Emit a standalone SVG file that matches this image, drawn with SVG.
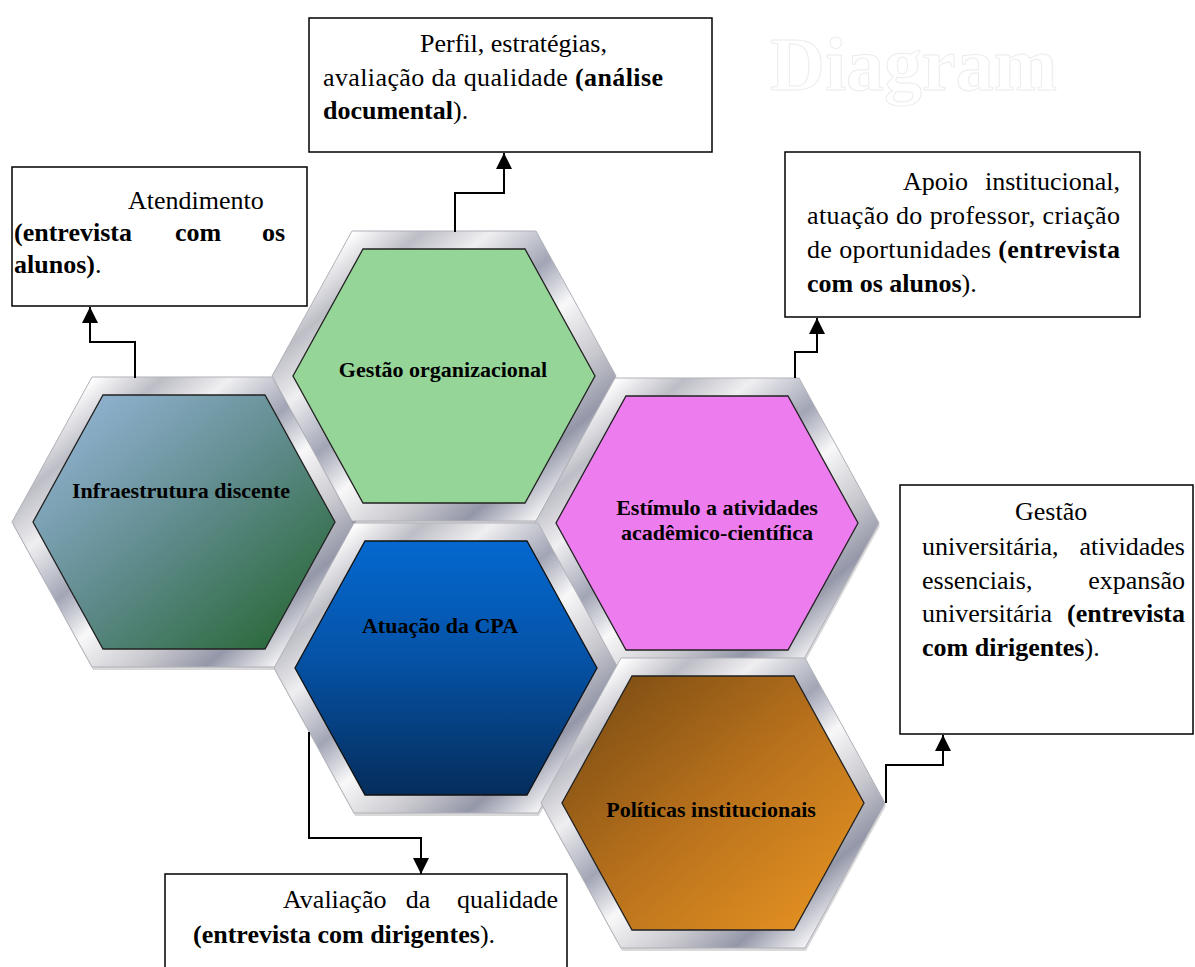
<svg xmlns="http://www.w3.org/2000/svg" xmlns:xlink="http://www.w3.org/1999/xlink" width="1195" height="967" viewBox="0 0 1195 967">
  <style>
    .box { fill: #ffffff; stroke: #000000; stroke-width: 1.5; }
    .bt { font-family: "Liberation Serif", "Times New Roman", serif; font-size: 26px; fill: #000000; }
    .b { font-weight: bold; }
    .ht { font-family: "Liberation Serif", "Times New Roman", serif; font-size: 22px; font-weight: bold; fill: #000000; text-anchor: middle; }
    .conn { fill: none; stroke: #000000; stroke-width: 2; marker-end: url(#arrow); }
    .mark { font-family: "Liberation Serif", "Times New Roman", serif; font-size: 76px; font-weight: bold; fill: #ffffff; stroke: #ececec; stroke-width: 1; }
  </style>
  <defs>
    <!-- metallic bevel for the hexagon frames -->
    <linearGradient id="silver" x1="0" y1="0" x2="1" y2="1">
      <stop offset="0" stop-color="#d8d8dc"/>
      <stop offset="0.12" stop-color="#ffffff"/>
      <stop offset="0.22" stop-color="#bdbdc6"/>
      <stop offset="0.32" stop-color="#efeff1"/>
      <stop offset="0.45" stop-color="#a2a5b5"/>
      <stop offset="0.55" stop-color="#f8f8f9"/>
      <stop offset="0.68" stop-color="#c8c8ce"/>
      <stop offset="0.78" stop-color="#9497a8"/>
      <stop offset="0.88" stop-color="#f3f3f5"/>
      <stop offset="1" stop-color="#cacad0"/>
    </linearGradient>
    <linearGradient id="gInfra" x1="0" y1="0" x2="1" y2="1">
      <stop offset="0" stop-color="#9cbbe0"/>
      <stop offset="0.5" stop-color="#5f8b8c"/>
      <stop offset="1" stop-color="#1f6128"/>
    </linearGradient>
    <linearGradient id="gCpa" x1="0" y1="0" x2="0" y2="1">
      <stop offset="0" stop-color="#0468cf"/>
      <stop offset="0.45" stop-color="#0553a8"/>
      <stop offset="1" stop-color="#052d5b"/>
    </linearGradient>
    <linearGradient id="gPol" x1="0" y1="0" x2="1" y2="1">
      <stop offset="0" stop-color="#734812"/>
      <stop offset="0.5" stop-color="#b8711c"/>
      <stop offset="1" stop-color="#ec9722"/>
    </linearGradient>
    <polygon id="frame" points="-92,-145 92,-145 172,0 92,145 -92,145 -172,0"/>
    <polygon id="face" points="-81,-127 81,-127 151,0 81,127 -81,127 -151,0"/>
    <marker id="arrow" viewBox="0 0 16 16" markerWidth="16" markerHeight="16" refX="16" refY="8" orient="auto" markerUnits="userSpaceOnUse">
      <path d="M0,0 L16,8 L0,16 Z" fill="#000000"/>
    </marker>
  </defs>

  <rect width="1195" height="967" fill="#ffffff"/>

  <!-- faint heading behind the content -->
  <text class="mark" x="770" y="90">Diagram</text>

  <!-- hexagon nodes -->
  <g id="node-infraestrutura" transform="translate(184,522)">
    <use xlink:href="#frame" transform="translate(1,3)" fill="#000000" opacity="0.15"/>
    <use xlink:href="#frame" fill="url(#silver)" stroke="#b0b0b8" stroke-width="1"/>
    <use xlink:href="#face" fill="url(#gInfra)" stroke="#222222" stroke-width="1.3"/>
    <text class="ht" x="-3" y="-24">Infraestrutura discente</text>
  </g>

  <g id="node-gestao" transform="translate(444,376)">
    <use xlink:href="#frame" transform="translate(1,3)" fill="#000000" opacity="0.15"/>
    <use xlink:href="#frame" fill="url(#silver)" stroke="#b0b0b8" stroke-width="1"/>
    <use xlink:href="#face" fill="#96d598" stroke="#222222" stroke-width="1.3"/>
    <text class="ht" x="-1" y="1">Gestão organizacional</text>
  </g>

  <g id="node-estimulo" transform="translate(707,523)">
    <use xlink:href="#frame" transform="translate(1,3)" fill="#000000" opacity="0.15"/>
    <use xlink:href="#frame" fill="url(#silver)" stroke="#b0b0b8" stroke-width="1"/>
    <use xlink:href="#face" fill="#ed7cee" stroke="#222222" stroke-width="1.3"/>
    <text class="ht" x="10" y="-8">Estímulo a atividades</text>
    <text class="ht" x="10" y="17">acadêmico-científica</text>
  </g>

  <g id="node-cpa" transform="translate(446,668)">
    <use xlink:href="#frame" transform="translate(1,3)" fill="#000000" opacity="0.15"/>
    <use xlink:href="#frame" fill="url(#silver)" stroke="#b0b0b8" stroke-width="1"/>
    <use xlink:href="#face" fill="url(#gCpa)" stroke="#111111" stroke-width="1.3"/>
    <text class="ht" x="-6" y="-35">Atuação da CPA</text>
  </g>

  <g id="node-politicas" transform="translate(713,803)">
    <use xlink:href="#frame" transform="translate(1,3)" fill="#000000" opacity="0.15"/>
    <use xlink:href="#frame" fill="url(#silver)" stroke="#b0b0b8" stroke-width="1"/>
    <use xlink:href="#face" fill="url(#gPol)" stroke="#222222" stroke-width="1.3"/>
    <text class="ht" x="-2" y="14">Políticas institucionais</text>
  </g>

  <!-- annotation boxes -->
  <g id="box-documental">
    <rect class="box" x="309" y="18" width="403" height="134"/>
    <text class="bt" x="420" y="52">Perfil, estratégias,</text>
    <text class="bt" x="323" y="86" textLength="340" lengthAdjust="spacing">avaliação da qualidade <tspan class="b">(análise</tspan></text>
    <text class="bt" x="323" y="119"><tspan class="b">documental</tspan>).</text>
  </g>

  <g id="box-atendimento">
    <rect class="box" x="12" y="167" width="295" height="139"/>
    <text class="bt" x="128" y="209">Atendimento</text>
    <text class="bt b" x="14" y="241">(entrevista</text>
    <text class="bt b" x="198" y="241" text-anchor="middle">com</text>
    <text class="bt b" x="285" y="241" text-anchor="end">os</text>
    <text class="bt" x="14" y="273"><tspan class="b">alunos)</tspan>.</text>
  </g>

  <g id="box-apoio">
    <rect class="box" x="785" y="152" width="355" height="165"/>
    <text class="bt" x="903" y="190">Apoio</text>
    <text class="bt" x="1120" y="190" text-anchor="end">institucional,</text>
    <text class="bt" x="807" y="224" textLength="313" lengthAdjust="spacing">atuação do professor, criação</text>
    <text class="bt" x="807" y="258" textLength="313" lengthAdjust="spacing">de oportunidades <tspan class="b">(entrevista</tspan></text>
    <text class="bt" x="807" y="292"><tspan class="b">com os alunos</tspan>).</text>
  </g>

  <g id="box-dirigentes">
    <rect class="box" x="900" y="485" width="293" height="249"/>
    <text class="bt" x="1015" y="520">Gestão</text>
    <text class="bt" x="922" y="555">universitária,</text>
    <text class="bt" x="1185" y="555" text-anchor="end">atividades</text>
    <text class="bt" x="922" y="589">essenciais,</text>
    <text class="bt" x="1185" y="589" text-anchor="end">expansão</text>
    <text class="bt" x="922" y="622">universitária</text>
    <text class="bt b" x="1185" y="622" text-anchor="end">(entrevista</text>
    <text class="bt" x="922" y="656"><tspan class="b">com dirigentes</tspan>).</text>
  </g>

  <g id="box-avaliacao">
    <rect class="box" x="165" y="874" width="402" height="100"/>
    <text class="bt" x="283" y="908">Avaliação</text>
    <text class="bt" x="418" y="908" text-anchor="middle">da</text>
    <text class="bt" x="558" y="908" text-anchor="end">qualidade</text>
    <text class="bt" x="193" y="943"><tspan class="b">(entrevista com dirigentes</tspan>).</text>
  </g>

  <!-- elbow connectors from the hexagons to their boxes -->
  <g id="connectors">
    <path class="conn" d="M135,378 V342 H90 V307"/>
    <path class="conn" d="M455,232 V193 H504 V153"/>
    <path class="conn" d="M795,378 V352 H817 V318"/>
    <path class="conn" d="M886,803 V765 H943 V735"/>
    <path class="conn" d="M309,732 V838 H421 V874"/>
  </g>
</svg>
